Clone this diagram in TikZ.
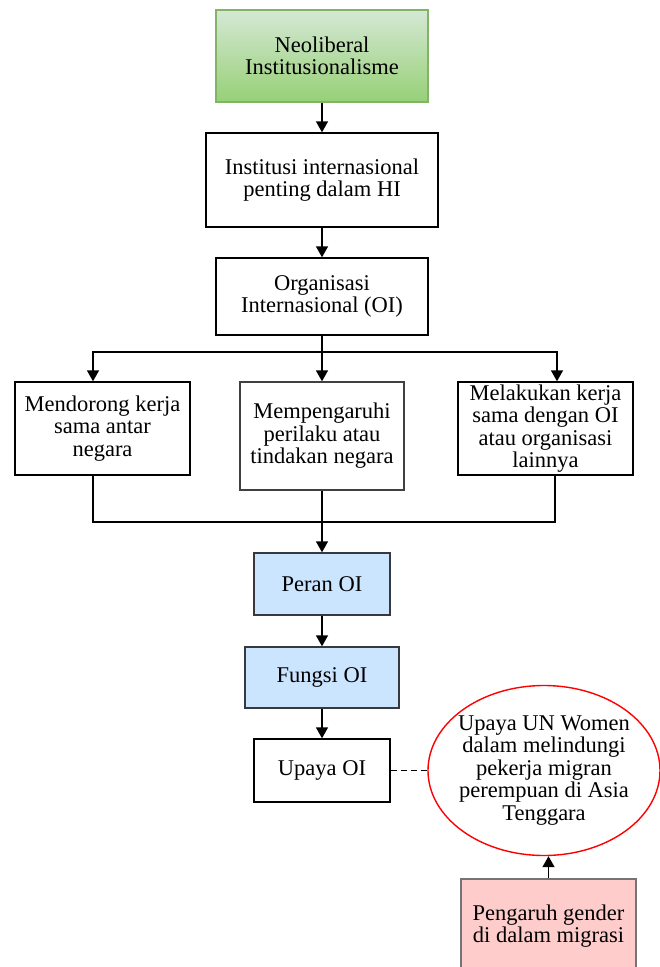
\documentclass[tikz,border=0pt]{standalone}
\usepackage{fontspec}
\setmainfont{Liberation Serif}
\usetikzlibrary{arrows.meta,shapes.geometric}
\definecolor{greenborder}{HTML}{82B366}
\definecolor{greentop}{HTML}{D5E8D4}
\definecolor{greenbot}{HTML}{97D077}
\definecolor{bluefill}{HTML}{CCE5FF}
\definecolor{pinkfill}{HTML}{FFCCCC}
\definecolor{darkborder}{HTML}{36393D}
\begin{document}
\begin{tikzpicture}[x=1pt,y=-1pt,
  every node/.style={font=\fontsize{22.5}{22.5}\selectfont, align=center, inner sep=1pt},
  box/.style={draw=black, line width=1.4pt, fill=white, rectangle},
  greenbox/.style={draw=greenborder, line width=1.4pt, rectangle, top color=greentop, bottom color=greenbot},
  bluebox/.style={draw=darkborder, line width=1.4pt, fill=bluefill, rectangle},
  pinkbox/.style={draw=darkborder!70, line width=1.4pt, fill=pinkfill, rectangle},
  conn/.style={line width=1.4pt, draw=black},
  arr/.style={conn, -{Triangle[length=11pt,width=12pt]}}
]
\useasboundingbox (0,0) rectangle (659,967);

\node[greenbox, minimum width=212, minimum height=92] (neo) at (322,56) {Neoliberal\\Institusionalisme};
\node[box, minimum width=232, minimum height=94] (inst) at (322,180) {Institusi internasional\\penting dalam HI};
\node[box, minimum width=212, minimum height=77] (oi) at (322,296.5) {Organisasi\\Internasional (OI)};

\node[box, minimum width=175, minimum height=93] (left) at (102.5,428.5) {Mendorong kerja\\sama antar\\negara};
\node[box, draw=black!75, minimum width=164, minimum height=108] (mid) at (322,436) {Mempengaruhi\\perilaku atau\\tindakan negara};
\node[box, minimum width=175, minimum height=93] (right) at (545.5,428.5) {Melakukan kerja\\sama dengan OI\\atau organisasi\\lainnya};

\node[bluebox, minimum width=136, minimum height=62] (peran) at (322,584) {Peran OI};
\node[bluebox, minimum width=154, minimum height=61] (fungsi) at (322,677.5) {Fungsi OI};
\node[box, minimum width=136, minimum height=63] (upaya) at (322,770.5) {Upaya OI};

\node[ellipse, draw=red, line width=1.4pt, fill=white, minimum width=232, minimum height=170, inner sep=0pt] (unw) at (544,770.5) {};
\node at (unw.center) {Upaya UN Women\\dalam melindungi\\pekerja migran\\perempuan di Asia\\Tenggara};
\node[pinkbox, minimum width=175, minimum height=94] (gender) at (548.5,926) {Pengaruh gender\\di dalam migrasi};

\coordinate (split) at (322,352);
\coordinate (join) at (322,522);

\draw[arr] (neo) -- (inst);
\draw[arr] (inst) -- (oi);
\draw[conn] (oi.south) -- (split);
\draw[arr] (split) -| ([xshift=-9.5]left.north);
\draw[arr] (split) -- (split |- mid.north);
\draw[arr] (split) -| ([xshift=11.5]right.north);
\draw[conn] ([xshift=-9.5]left.south) |- (join);
\draw[conn] ([xshift=9.5]right.south) |- (join);
\draw[conn] (mid.south -| join) -- (join);
\draw[arr] (join) -- (peran.north);
\draw[arr] (peran) -- (fungsi);
\draw[arr] (fungsi) -- (upaya);
\draw[conn, dash pattern=on 6pt off 4pt] (upaya.east) -- (unw.west);
\draw[arr] (gender.north) -- (gender.north |- unw.south);
\end{tikzpicture}
\end{document}
